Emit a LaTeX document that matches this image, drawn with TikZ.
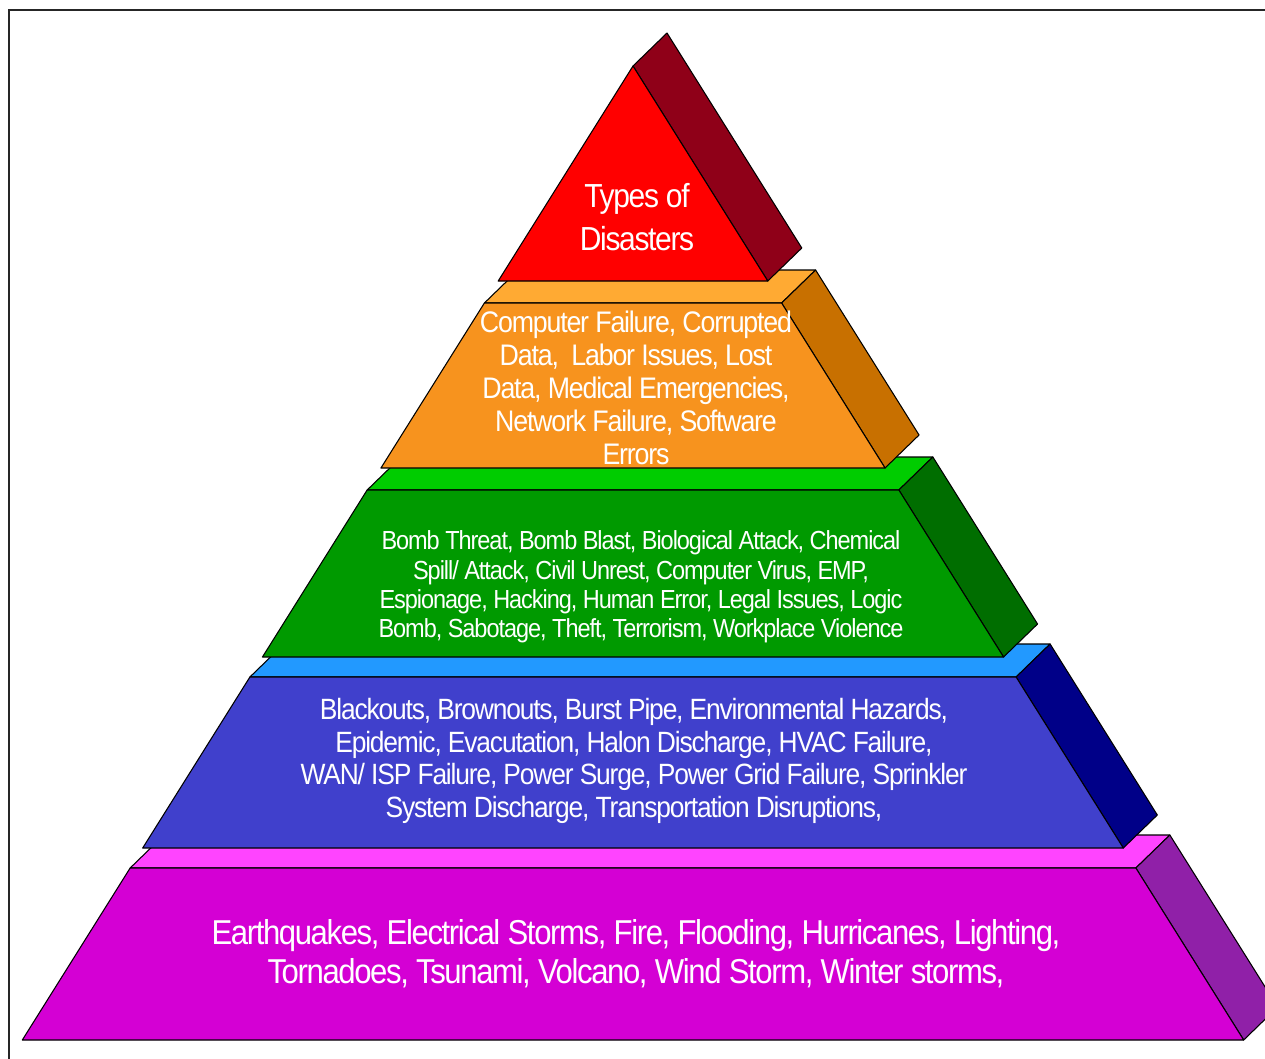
\documentclass[tikz,border=0pt]{standalone}
\usepackage{fontspec}
\usetikzlibrary{calc}
\newfontfamily\pyrfont[FakeStretch=0.9,LetterSpace=-4]{Liberation Sans}
\definecolor{redF}{HTML}{FF0000}\definecolor{redS}{HTML}{8F0018}
\definecolor{orgF}{HTML}{F7931E}\definecolor{orgT}{HTML}{FFAA33}\definecolor{orgS}{HTML}{C87000}
\definecolor{grnF}{HTML}{009A00}\definecolor{grnT}{HTML}{00CC00}\definecolor{grnS}{HTML}{006E00}
\definecolor{bluF}{HTML}{4040CC}\definecolor{bluT}{HTML}{2299FF}\definecolor{bluS}{HTML}{000088}
\definecolor{magF}{HTML}{D400D4}\definecolor{magT}{HTML}{FF44FF}\definecolor{magS}{HTML}{9020A8}
\newcommand\pyrlayer[6]{%
  \pgfmathsetmacro\hwt{0.627*(#1-66)}%
  \pgfmathsetmacro\hwb{0.627*(#2-66)}%
  \coordinate (#6TL) at ({633-\hwt},#1);
  \coordinate (#6TR) at ({633+\hwt},#1);
  \coordinate (#6BL) at ({633-\hwb},#2);
  \coordinate (#6BR) at ({633+\hwb},#2);
  \filldraw[face,fill=#4] (#6TL) -- (#6TR) -- ($(#6TR)+(34,-33)$) -- ($(#6TL)+(34,-33)$) -- cycle;
  \filldraw[face,fill=#5] (#6TR) -- (#6BR) -- ($(#6BR)+(34,-33)$) -- ($(#6TR)+(34,-33)$) -- cycle;
  \filldraw[face,fill=#3] (#6TL) -- (#6TR) -- (#6BR) -- (#6BL) -- cycle;
}
\tikzset{
  face/.style={draw=black, line width=0.8pt, line join=round},
  lbl/.style={text=white, align=center, inner sep=0pt},
}
\begin{document}
\begin{tikzpicture}[x=0.75pt,y=-0.75pt]
\useasboundingbox (0,0) rectangle (1265,1058);
\clip (0,0) rectangle (1265,1058);
\fill[white] (0,0) rectangle (1265,1058);
\draw[line width=1.3pt, black!85] (9,1060) -- (9,10) -- (1267,10);
% layers, bottom to top
\pyrlayer{868}{1040}{magF}{magT}{magS}{m}
\pyrlayer{677}{848}{bluF}{bluT}{bluS}{b}
\pyrlayer{490}{657}{grnF}{grnT}{grnS}{g}
\pyrlayer{303}{468}{orgF}{orgT}{orgS}{o}
% top triangle
\coordinate (rA) at (633,66);
\coordinate (rL) at (498.2,281);
\coordinate (rR) at (767.8,281);
\filldraw[face,fill=redS] (rA) -- (rR) -- ($(rR)+(34,-33)$) -- ($(rA)+(34,-33)$) -- cycle;
\filldraw[face,fill=redF] (rA) -- (rR) -- (rL) -- cycle;
% labels
\node[lbl, font={\pyrfont\fontsize{25pt}{32pt}\selectfont}] (t1) at (637,217) {Types of\\Disasters};
\node[lbl, font={\pyrfont\fontsize{22.3pt}{24.75pt}\selectfont}] (t2) at (636,388) {Computer Failure, Corrupted\\Data,~ Labor Issues, Lost\\Data, Medical Emergencies,\\Network Failure, Software\\Errors};
\node[lbl, font={\pyrfont\fontsize{19.6pt}{22pt}\selectfont}] (t3) at (641,587) {Bomb Threat, Bomb Blast, Biological Attack, Chemical\\Spill/ Attack, Civil Unrest, Computer Virus, EMP,\\Espionage, Hacking, Human Error, Legal Issues, Logic\\Bomb, Sabotage, Theft, Terrorism, Workplace Violence};
\node[lbl, font={\pyrfont\fontsize{22pt}{24.5pt}\selectfont}] (t4) at (634,761) {Blackouts, Brownouts, Burst Pipe, Environmental Hazards,\\Epidemic, Evacutation, Halon Discharge, HVAC Failure,\\WAN/ ISP Failure, Power Surge, Power Grid Failure, Sprinkler\\System Discharge, Transportation Disruptions,};
\node[lbl, font={\pyrfont\fontsize{25.9pt}{29.25pt}\selectfont}] (t5) at (636,954) {Earthquakes, Electrical Storms, Fire, Flooding, Hurricanes, Lighting,\\Tornadoes, Tsunami, Volcano, Wind Storm, Winter storms,};
\end{tikzpicture}
\end{document}
